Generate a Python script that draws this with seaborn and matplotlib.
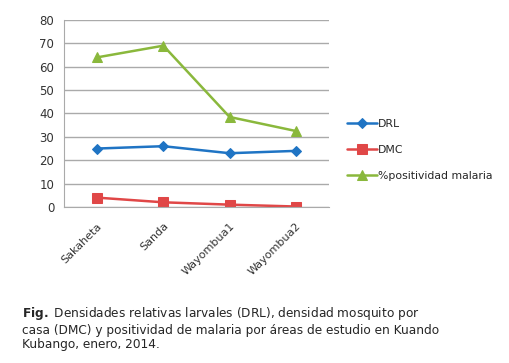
import pandas as pd
import numpy as np
import matplotlib.pyplot as plt
import seaborn as sns

areas = ['Sakaheta', 'Sanda', 'Wayombua1', 'Wayombua2']
drl = [25, 26, 23, 24]
dmc = [4, 2, 1, 0.2]
positividad = [64, 69, 38.5, 32.5]

df = pd.DataFrame({'pos': np.arange(len(areas)), 'DRL': drl, 'DMC': dmc,
                   '%positividad malaria': positividad})

sns.set_style('white')
plt.rcParams['font.family'] = ['DejaVu Sans']

fig = plt.figure(figsize=(5.1, 3.63), dpi=100)
ax = fig.add_axes([0.1255, 0.4298, 0.5195, 0.5152])

styles = [('DRL', '#1F74C4', 'D', 5.5), ('DMC', '#E04747', 's', 7),
          ('%positividad malaria', '#8AB83C', '^', 7)]
for name, col, mk, ms in styles:
    sns.lineplot(data=df, x='pos', y=name, ax=ax, color=col, marker=mk,
                 markersize=ms, markeredgecolor=col, linewidth=1.8, label=name)

ax.set_xlim(-0.5, 3.5)
ax.set_ylim(0, 80)
ax.set_yticks(range(0, 81, 10))
ax.set_xticks(range(len(areas)))
ax.set_xticklabels(areas, rotation=45, ha='right', rotation_mode='anchor',
                   fontsize=8, color='#333333')
ax.set_xticks(np.arange(-0.5, 3.6, 1), minor=True)
ax.tick_params(axis='x', which='major', length=0, pad=10)
ax.tick_params(axis='x', which='minor', length=4, color='#AAAAAA', direction='out')
ax.tick_params(axis='y', length=4, color='#AAAAAA', labelsize=8.5,
               labelcolor='#333333', pad=3)
ax.yaxis.set_tick_params(direction='out')
ax.grid(axis='y', color='#AAAAAA', linewidth=1)
ax.set_axisbelow(True)
for s in ['top', 'right']:
    ax.spines[s].set_visible(False)
for s in ['left', 'bottom']:
    ax.spines[s].set_color('#AAAAAA')
ax.set_xlabel('')
ax.set_ylabel('')

ax.legend(loc='center left', bbox_to_anchor=(1.03, 0.305), frameon=False,
          fontsize=7.8, handlelength=2.8, handletextpad=0.1, labelspacing=1.45)

fig.text(0.043, 0.16, r'$\bf{Fig.}$ Densidades relativas larvales (DRL), densidad mosquito por'
         '\ncasa (DMC) y positividad de malaria por áreas de estudio en Kuando'
         '\nKubango, enero, 2014.', fontsize=8.7, va='top', linespacing=1.17)

fig.savefig('out.png', dpi=100)
